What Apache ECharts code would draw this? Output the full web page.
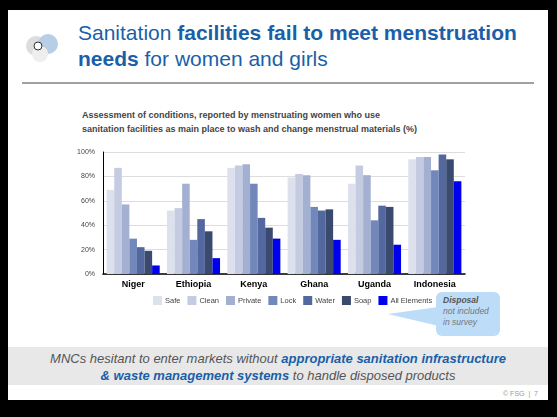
<!DOCTYPE html>
<html>
<head>
<meta charset="utf-8">
<script src="https://cdn.jsdelivr.net/npm/echarts@6/dist/echarts.min.js"></script>
<style>
  body { margin: 0; background: #000; width: 557px; height: 417px; overflow: hidden; font-family: Arial, "Liberation Sans", sans-serif; }
  #slide { position: absolute; left: 8px; top: 10px; width: 540px; height: 390px; background: #fff; }
  .title { position: absolute; left: 70px; top: 10px; font-size: 21px; line-height: 26px; color: #1a5fa8; }
  .rule { position: absolute; left: 14px; top: 72px; width: 512px; height: 2px; background: #a0a0a0; }
  .sub { position: absolute; left: 74px; top: 98px; font-size: 9px; font-weight: bold; color: #444; line-height: 14px; }
  .logo { position: absolute; left: 16px; top: 22px; width: 36px; height: 30px; }
  .band { position: absolute; left: 0; top: 337px; width: 540px; height: 38px; background: #e8e8e8; text-align: center; font-style: italic; font-size: 13px; line-height: 17px; color: #555; padding-top: 3px; box-sizing: border-box; }
  .band b { color: #1a5fa8; }
  .foot { position: absolute; right: 10px; top: 380px; font-size: 7px; color: #999; }
  .bubble { position: absolute; left: 428px; top: 282px; width: 64px; height: 44px; background: #bcdcf7; border-radius: 6px; font-size: 8.5px; font-style: italic; color: #777; padding: 3px 7px; box-sizing: border-box; line-height: 11px; }
  .bubble b { color: #555; }
  #tail { position: absolute; left: 380px; top: 295px; }
  #chart { position: absolute; left: 52px; top: 130px; width: 430px; height: 180px; }
</style>
</head>
<body>
<div id="slide">
  <svg class="logo" viewBox="0 0 36 30">
    <circle cx="12" cy="14" r="10" fill="#ddd"/>
    <circle cx="24" cy="12" r="10" fill="#b8cde6"/>
    <circle cx="16" cy="22" r="8" fill="#eee"/>
    <circle cx="14" cy="14" r="4" fill="#fff" stroke="#333"/>
  </svg>
  <div class="title">Sanitation <b>facilities fail to meet menstruation<br>needs</b> for women and girls</div>
  <div class="rule"></div>
  <div class="sub">Assessment of conditions, reported by menstruating women who use<br>sanitation facilities as main place to wash and change menstrual materials (%)</div>
  <svg id="tail" width="60" height="30"><polygon points="50,2 0,9 55,22" fill="#bcdcf7"/></svg>
  <div class="bubble"><b>Disposal</b><br>not included in survey</div>
  <div class="band">MNCs hesitant to enter markets without <b>appropriate sanitation infrastructure<br>&amp; waste management systems</b> to handle disposed products</div>
  <div class="foot">© FSG &nbsp;|&nbsp; 7</div>
</div>
<div id="chart"></div>
<script>
  const categories = ['Niger', 'Ethiopia', 'Kenya', 'Ghana', 'Uganda', 'Indonesia'];
  const seriesNames = ['Safe', 'Clean', 'Private', 'Lock', 'Water', 'Soap', 'All Elements'];
  const safe = [69, 52, 87, 79, 74, 94];
  const clean = [87, 54, 89, 82, 89, 96];
  const privacy = [57, 74, 90, 81, 81, 96];
  const lock = [29, 28, 74, 55, 44, 85];
  const water = [22, 45, 46, 52, 56, 98];
  const soap = [19, 35, 38, 53, 55, 94];
  const allElements = [7, 13, 29, 28, 24, 76];
  const yTicks = [0, 20, 40, 60, 80, 100];

  const values = [safe, clean, privacy, lock, water, soap, allElements];
  const colors = ['#dde1ee', '#c5cce2', '#a3b0d1', '#7288bb', '#52689f', '#3a4a6e', '#0000ee'];

  const chart = echarts.init(document.getElementById('chart'));
  chart.setOption({
    animation: false,
    textStyle: { fontFamily: 'Arial, Liberation Sans, sans-serif' },
    grid: { left: 51, right: 17, top: 22, bottom: 36 },
    legend: {
      bottom: 0, left: 96, itemWidth: 9, itemHeight: 9, itemGap: 7,
      icon: 'rect',
      textStyle: { fontSize: 7.5, color: '#444', padding: [0, 0, 0, -2] },
      data: seriesNames
    },
    xAxis: {
      type: 'category', data: categories,
      axisLine: { lineStyle: { color: '#000', width: 1.5 } },
      axisTick: { show: false },
      axisLabel: { fontSize: 9, fontWeight: 'bold', color: '#000', margin: 6 }
    },
    yAxis: {
      type: 'value', min: yTicks[0], max: yTicks[yTicks.length - 1], interval: 20,
      axisLine: { show: true, lineStyle: { color: '#000' } },
      axisLabel: { fontSize: 7, color: '#444', formatter: '{value}%' },
      splitLine: { lineStyle: { color: '#ddd' } }
    },
    series: seriesNames.map((name, i) => ({
      name, type: 'bar', data: values[i],
      itemStyle: { color: colors[i] },
      barGap: '0%', barCategoryGap: '12%'
    }))
  });
</script>
</body>
</html>
